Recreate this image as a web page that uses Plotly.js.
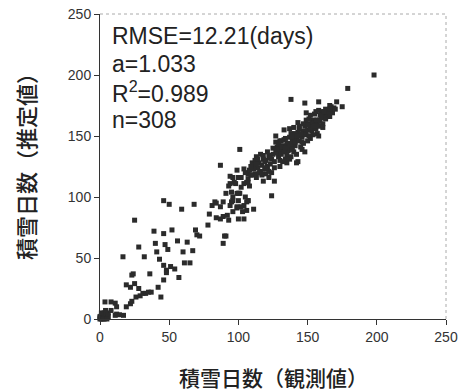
<!DOCTYPE html>
<html>
<head>
<meta charset="utf-8">
<script src="https://cdn.plot.ly/plotly-3.0.1.min.js"></script>
<style>html,body{margin:0;padding:0;background:#fff;}#chart{width:468px;height:392px;}</style>
</head>
<body>
<div id="chart"></div>
<script>
const obsX = [
  0,1,2,0,3,1,4,2,5,3,1,0,4,6,2,3,5,1,6,4,
  3.6,8,11,12,8,12,14,17,11,19,22,23,19,22,25,28,23,24,26,29,31,33,35,37,36,42,44,
  16.6,25,28,32,39,40,46,52,41,43,46,48,47,49,56,63,60,67,61,65,48,46,57,54,51,
  46,50,59,68,69,70,72,78,79,84,81,83,87,89,84,87,89,92,93,96,94,95,90,89,91,
  99,102,104,107,106,111,100,101,
  87,101,124,126,118,107,102,96,104,99,94,91,99,107,108,96,100,107,104,103,100,
  198,179,138,148,158,171,167,175,166,169,167,149,152,155,158,160,154,150,157,163,163,
  143,148,133,137,140,143,147,149,153,146,152,157,158,127,127,130,132,128,136,131,135,
  139,141,145,136,132,140,147,148,143,135,142,116,113,118,122,125,129,132,123,111,114,
  119,108,105,112,117,101,107,120,97,94,104,95,100,105,96,106,99,100,98,93,102,106,110,117,122,
  110,112,115,117,120,121,124,126,128,130,131,133,134,135,137,138,139,141,142,144,145,146,148,
  150,151,152,154,155,156,157,159,160,161,162,164,165,166,168,170,161,153,149,144,140,137,133,
  129,125,121,118,114,111,109,113,119,123,127,131,134,138,141,144,147,151,156,159,163,166,158,
  154,150,146,142,138,134,130,126,122,116,113,124,130,137,161,
  152,156,160,145,139,128,134,142,150,155,162,120,115,109
];
const estY = [
  0,0,1,2,2,3,1,4,3,5,1,1,4,2,0,0,0,5,5,7,
  14,14,13,10,7,4,3.5,3,3,10,12.5,14.5,28,26,29,25,36,37,18,19,21,21,22,22,37,26,18,
  51,81,59,51,72,62,70,73,55,49,44,40,61,57,64,63,55,56,46,46,38,32,34,41,43,
  97,94,90,94,73,69,68,77,86,83,93,96,92,96,95,82,84,85,81,88,93,96,68,62,68,
  91,92,82,97,89,90,103,103,
  126,139,101,113,113,119,116,116,123,122,117,103,103,112,109,100,97,97,93,88,82,
  200,189,180,177,178,178,174,174,175,173,171,169,167,168,171,165,163,160,160,164,165,
  161,158,155,156,157,153,154,152,154,149,148,152,150,150,145,146,142,141,144,146,144,
  146,142,141,138,139,137,144,137,129,128,128,135,133,131,134,135,133,129,127,126,124,
  123,122,120,119,118,116,115,119,112,111,111,104,103,100,97,96,92,116,111,109,108,112,118,119,116,
  128,130,128,126,130,125,131,129,136,138,135,137,141,134,140,143,139,145,148,146,150,145,151,
  155,150,158,157,160,156,163,162,168,160,167,168,170,166,169,172,170,161,163,156,150,149,147,
  143,140,137,134,131,123,125,127,129,132,138,141,148,152,152,158,160,164,170,167,172,172,158,
  151,146,139,135,133,131,130,124,121,121,116,120,125,131,157,
  157,163,166,152,149,139,140,150,159,158,170,124,120,118
];
const statLines = ["RMSE=12.21(days)", "a=1.033", "R<sup>2</sup>=0.989", "n=308"];
const xTitle = "積雪日数（観測値）";
const yTitle = "積雪日数（推定値）";
const tickVals = [0, 50, 100, 150, 200, 250];

const trace = {
  x: obsX, y: estY, type: 'scatter', mode: 'markers',
  marker: {symbol: 'square', size: 5, color: '#2b2b2b'},
  cliponaxis: false, hoverinfo: 'skip'
};

const statY = [0.928, 0.836, 0.744, 0.652];
const annotations = statLines.map((t, i) => ({
  text: t, xref: 'paper', yref: 'paper', x: 0.028, y: statY[i],
  xanchor: 'left', yanchor: 'middle', showarrow: false,
  font: {family: 'Liberation Sans, Arial, sans-serif', size: 23, color: '#222'}
}));
annotations.push({
  text: xTitle, xref: 'paper', yref: 'paper', x: 0.5, y: -0.19,
  xanchor: 'center', yanchor: 'middle', showarrow: false,
  font: {family: 'Noto Sans CJK JP, sans-serif', size: 21, color: '#222', weight: 500}
});
annotations.push({
  text: yTitle, xref: 'paper', yref: 'paper', x: -0.217, y: 0.518,
  xanchor: 'center', yanchor: 'middle', showarrow: false, textangle: -90,
  font: {family: 'Noto Sans CJK JP, sans-serif', size: 22, color: '#222', weight: 500}
});

const axisCommon = {
  range: [0, 250], tickmode: 'array', tickvals: tickVals,
  ticks: 'outside', ticklen: 5, tickwidth: 1, tickcolor: '#333',
  showline: true, linecolor: '#333', linewidth: 1,
  showgrid: false, zeroline: false, fixedrange: true,
  tickfont: {family: 'Liberation Sans, Arial, sans-serif', size: 14, color: '#333'}
};

const layout = {
  width: 468, height: 392,
  margin: {l: 100, r: 22, t: 14, b: 73},
  paper_bgcolor: '#fff', plot_bgcolor: '#fff',
  showlegend: false,
  xaxis: Object.assign({}, axisCommon),
  yaxis: Object.assign({}, axisCommon),
  annotations: annotations,
  shapes: [
    {type: 'line', xref: 'paper', yref: 'paper', x0: 0, x1: 1, y0: 1, y1: 1,
     line: {color: '#aaa', width: 1, dash: 'dot'}},
    {type: 'line', xref: 'paper', yref: 'paper', x0: 1, x1: 1, y0: 0, y1: 1,
     line: {color: '#aaa', width: 1, dash: 'dot'}}
  ]
};

Plotly.newPlot('chart', [trace], layout, {staticPlot: true, displayModeBar: false});
</script>
</body>
</html>
